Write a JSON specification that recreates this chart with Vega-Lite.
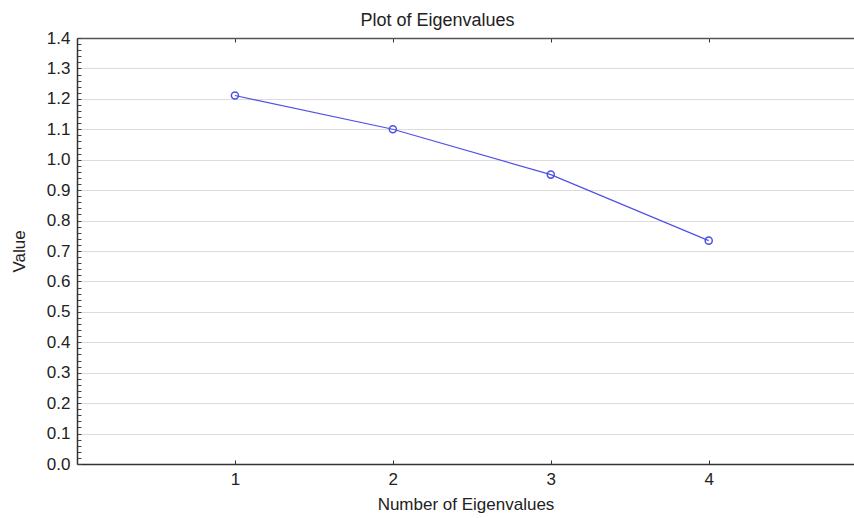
{
  "$schema": "https://vega.github.io/schema/vega-lite/v6.json",
  "width": 777,
  "height": 426,
  "autosize": "none",
  "padding": {"left": 77, "top": 38, "right": 0, "bottom": 54},
  "background": "white",
  "config": {
    "view": {"stroke": null},
    "font": "Liberation Sans",
    "axis": {"labelFont": "Liberation Sans", "titleFont": "Liberation Sans", "labelColor": "#222", "titleColor": "#222", "titleFontWeight": "normal", "labelFontSize": 17, "titleFontSize": 17}
  },
  "title": {"text": "Plot of Eigenvalues", "font": "Liberation Sans", "fontSize": 18, "fontWeight": "normal", "color": "#222", "anchor": "middle", "dx": -28, "offset": -1},
  "data": {"values": [
    {"n": 1, "v": 1.211},
    {"n": 2, "v": 1.100},
    {"n": 3, "v": 0.951},
    {"n": 4, "v": 0.734}
  ]},
  "layer": [
    {
      "mark": {"type": "point", "opacity": 0},
      "encoding": {
        "x": {"field": "n", "type": "quantitative", "scale": {"domain": [0, 4.92], "nice": false, "zero": false},
          "axis": {"orient": "top", "values": [1, 2, 3, 4], "labels": false, "title": null, "grid": false, "domain": true, "domainColor": "#555", "domainWidth": 1.5, "ticks": true, "tickSize": -4, "tickColor": "#333"}},
        "y": {"field": "v", "type": "quantitative", "scale": {"domain": [0, 1.4], "nice": false},
          "axis": {"orient": "left", "values": [0,0.02,0.04,0.06,0.08,0.1,0.12,0.14,0.16,0.18,0.2,0.22,0.24,0.26,0.28,0.3,0.32,0.34,0.36,0.38,0.4,0.42,0.44,0.46,0.48,0.5,0.52,0.54,0.56,0.58,0.6,0.62,0.64,0.66,0.68,0.7,0.72,0.74,0.76,0.78,0.8,0.82,0.84,0.86,0.88,0.9,0.92,0.94,0.96,0.98,1.0,1.02,1.04,1.06,1.08,1.1,1.12,1.14,1.16,1.18,1.2,1.22,1.24,1.26,1.28,1.3,1.32,1.34,1.36,1.38,1.4], "labels": false, "title": null, "grid": false, "domain": false, "ticks": true, "tickSize": -4, "tickColor": "#444"}}
      }
    },
    {
      "mark": {"type": "line", "color": "#5050e6", "strokeWidth": 1.2, "point": {"filled": false, "size": 50, "color": "#5050e6", "strokeWidth": 1.5}},
      "encoding": {
        "x": {"field": "n", "type": "quantitative", "scale": {"domain": [0, 4.92], "nice": false, "zero": false},
          "axis": {"orient": "bottom", "values": [1, 2, 3, 4], "title": "Number of Eigenvalues", "grid": false, "domain": true, "domainColor": "#333", "domainWidth": 1.5, "ticks": true, "tickSize": -4, "tickColor": "#333", "labelPadding": 11, "titlePadding": 9}},
        "y": {"field": "v", "type": "quantitative", "scale": {"domain": [0, 1.4], "nice": false},
          "axis": {"orient": "left", "values": [0,0.1,0.2,0.3,0.4,0.5,0.6,0.7,0.8,0.9,1.0,1.1,1.2,1.3,1.4], "format": ".1f", "title": "Value", "grid": true, "gridColor": "#dcdcdc", "gridWidth": 1, "domain": true, "domainColor": "#333", "domainWidth": 1.5, "ticks": false, "labelPadding": 7, "titlePadding": 18}}
      }
    }
  ],
  "resolve": {"axis": {"x": "independent", "y": "independent"}}
}
